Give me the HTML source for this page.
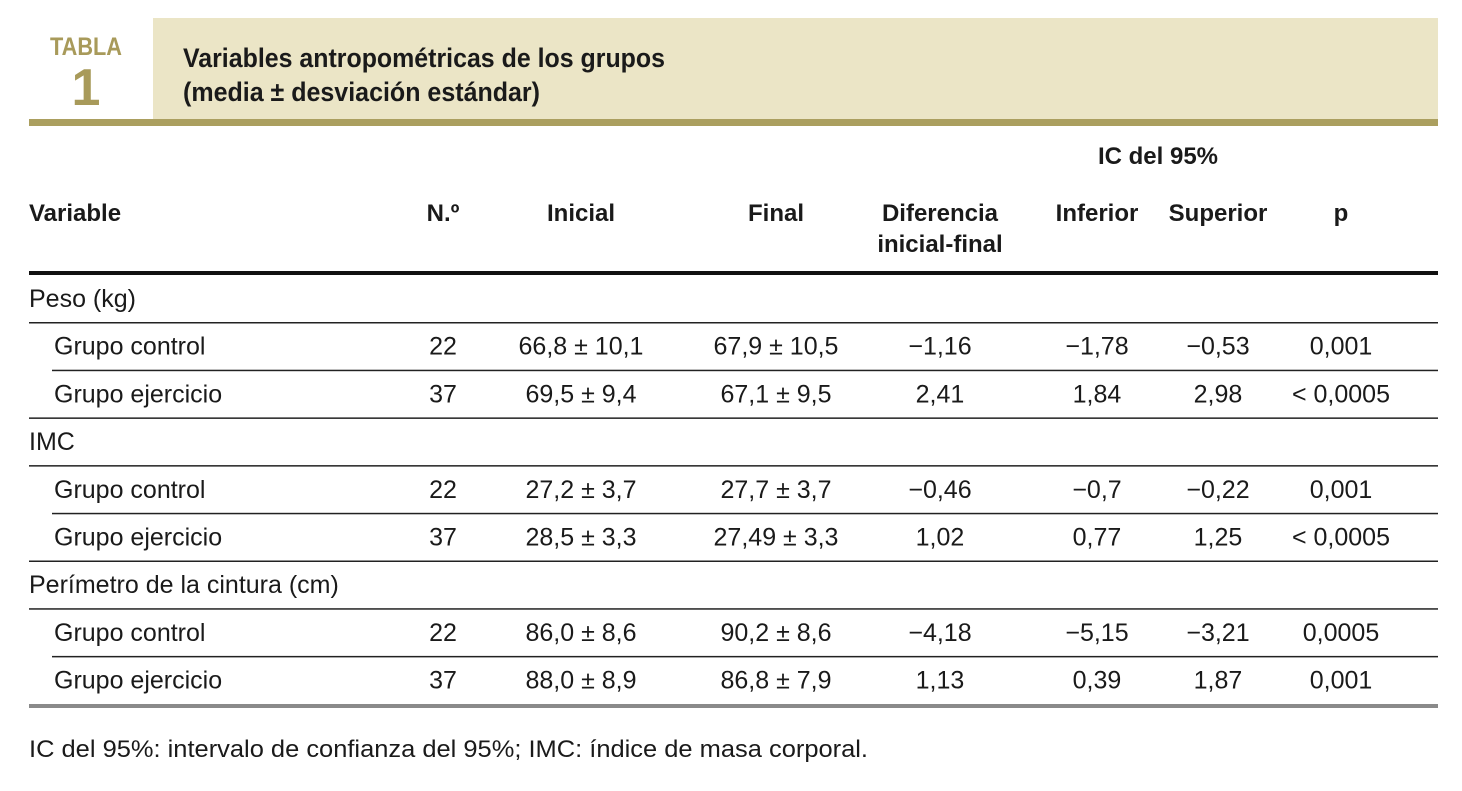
<!DOCTYPE html>
<html><head><meta charset="utf-8"><style>
html,body{margin:0;padding:0;background:#fff;}
svg{display:block}
text{font-family:"Liberation Sans Narrow","Liberation Sans",sans-serif;fill:#1a1a1a}
.h{font-weight:bold;font-size:24px}
.b{font-size:25px}
</style></head><body>
<svg width="1462" height="791">
<rect x="153" y="18" width="1285" height="101" fill="#ebe5c6"/>
<rect x="29" y="119" width="1409" height="7" fill="#ab9f5f"/>
<text x="50" y="55" textLength="72" lengthAdjust="spacingAndGlyphs" style="font-weight:bold;font-size:25px;fill:#a89a5a">TABLA</text>
<text x="86" y="105" text-anchor="middle" style="font-weight:bold;font-size:52px;fill:#a89a5a">1</text>
<text x="183" y="67" textLength="482" lengthAdjust="spacingAndGlyphs" style="font-weight:bold;font-size:27px">Variables antropométricas de los grupos</text>
<text x="183" y="101" textLength="357" lengthAdjust="spacingAndGlyphs" style="font-weight:bold;font-size:27px">(media ± desviación estándar)</text>

<g class="h">
<text class="h" x="1158" y="164" text-anchor="middle">IC del 95%</text>
<text class="h" x="29" y="221">Variable</text>
<text class="h" x="443" y="221" text-anchor="middle">N.º</text>
<text class="h" x="581" y="221" text-anchor="middle">Inicial</text>
<text class="h" x="776" y="221" text-anchor="middle">Final</text>
<text class="h" x="940" y="221" text-anchor="middle">Diferencia</text>
<text class="h" x="940" y="252" text-anchor="middle">inicial-final</text>
<text class="h" x="1097" y="221" text-anchor="middle">Inferior</text>
<text class="h" x="1218" y="221" text-anchor="middle">Superior</text>
<text class="h" x="1341" y="221" text-anchor="middle">p</text>
</g>
<rect x="29" y="271" width="1409" height="4" fill="#111"/>
<g id="body"></g>
<rect x="29" y="704" width="1409" height="4" fill="#8a8a8a"/>
<text x="29" y="757" textLength="839" lengthAdjust="spacingAndGlyphs" style="font-size:24px">IC del 95%: intervalo de confianza del 95%; IMC: índice de masa corporal.</text>
</svg>
<script>
const categories=["Peso (kg)","IMC","Perímetro de la cintura (cm)"];
const groups=["Grupo control","Grupo ejercicio"];
const nVals=["22","37","22","37","22","37"];
const inicial=["66,8 ± 10,1","69,5 ± 9,4","27,2 ± 3,7","28,5 ± 3,3","86,0 ± 8,6","88,0 ± 8,9"];
const finalV=["67,9 ± 10,5","67,1 ± 9,5","27,7 ± 3,7","27,49 ± 3,3","90,2 ± 8,6","86,8 ± 7,9"];
const diff=["−1,16","2,41","−0,46","1,02","−4,18","1,13"];
const inf=["−1,78","1,84","−0,7","0,77","−5,15","0,39"];
const sup=["−0,53","2,98","−0,22","1,25","−3,21","1,87"];
const pv=["0,001","< 0,0005","0,001","< 0,0005","0,0005","0,001"];
const ns="http://www.w3.org/2000/svg";
const body=document.getElementById('body');
function txt(x,y,s,anchor,name){
  const t=document.createElementNS(ns,'text');
  t.setAttribute('x',x);t.setAttribute('y',y);t.setAttribute('class','b');
  if(anchor)t.setAttribute('text-anchor',anchor);
  t.textContent=s;
  
  
  body.appendChild(t);
}
function line(x,y,name){
  const r=document.createElementNS(ns,'rect');
  r.setAttribute('x',x);r.setAttribute('y',y);r.setAttribute('width',1438-x);r.setAttribute('height',1.5);r.setAttribute('fill','#222');
  
  
  body.appendChild(r);
}
const rowH=47.7;
let y0=298;
const cols=[443,581,776,940,1097,1218,1341];
categories.forEach((c,ci)=>{
  const base=y0+ci*3*rowH;
  txt(29,base+9,c,null,'category-label');
  line(29,base+24,'category-rule');
  groups.forEach((g,gi)=>{
    const i=ci*2+gi;
    const cy=base+(gi+1)*rowH;
    txt(54,cy+9,g,null,'group-label');
    const vals=[nVals[i],inicial[i],finalV[i],diff[i],inf[i],sup[i],pv[i]];
    vals.forEach((v,k)=>txt(cols[k],cy+9,v,'middle','cell-value'));
    if(gi===0) line(52,cy+24,'row-rule');
    else if(ci<categories.length-1) line(29,cy+24,'section-rule');
  });
});
</script>
</body></html>
